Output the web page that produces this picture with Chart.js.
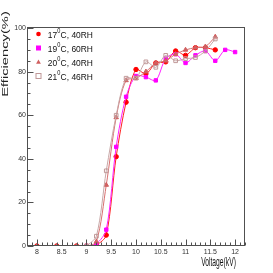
<!DOCTYPE html>
<html><head><meta charset="utf-8">
<script src="https://cdn.jsdelivr.net/npm/chart.js@4.4.0/dist/chart.umd.min.js"></script>
<style>html,body{margin:0;padding:0;background:#fff;overflow:hidden;}</style>
</head><body>
<canvas id="c" width="273" height="273"></canvas>
<script>
// ---- data ----
const voltages = [8.0, 8.4, 8.8, 9.0, 9.2, 9.4, 9.6, 9.8, 10.0, 10.2, 10.4, 10.6, 10.8, 11.0, 11.2, 11.4, 11.6, 11.8, 12.0];
const eff17C40RH = [0, 0, 0, 0, 0.5, 5, 41, 66, 81, 79, 84, 84.5, 89.5, 87.5, 91, 91, 90, null, null];
const eff19C60RH = [null, null, null, 0, 1, 7.5, 45.5, 68.5, 78, 77.5, 76, 86, 88, 84, 87.5, 89.5, 85, 90, 89];
const eff20C40RH = [0, 0, 0, 0, 2, 28, 59, 76, 77, 80, 84, 85, 88, 90, 91, 91.5, 96, null, null];
const eff21C46RH = [null, null, null, 0, 4.5, 34.5, 60, 77, 77, 84.5, 82, 87.5, 85, 86, 86.5, 89.5, 95, null, null];
const seriesNames = [["17", "0", "C, 40RH"], ["19", "0", "C, 60RH"], ["20", "0", "C, 40RH"], ["21", "0", "C, 46RH"]];
const xTicks = [8, 8.5, 9, 9.5, 10, 10.5, 11, 11.5, 12];
const yTicks = [0, 20, 40, 60, 80, 100];
const xTitle = "Voltage(kV)";
const yTitle = "Efficiency(%)";

const toPts = arr => voltages.map((v, i) => ({x: v, y: arr[i]})).filter(p => p.y !== null);

const styles = [
  {color: '#ff0000', line: '#ff2020', pointStyle: 'circle', r: 2.2, open: false},
  {color: '#ff00ff', line: '#ff20ff', pointStyle: 'rect', r: 2.4, open: false},
  {color: '#d06060', line: '#d87070', pointStyle: 'triangle', r: 2.6, open: false},
  {color: '#c09898', line: '#c8a8a8', pointStyle: 'rect', r: 2.6, open: true}
];
const allSeries = [eff17C40RH, eff19C60RH, eff20C40RH, eff21C46RH];

const datasets = allSeries.map((arr, i) => ({
  label: seriesNames[i].join(''),
  data: toPts(arr),
  borderColor: styles[i].line,
  borderWidth: 1,
  backgroundColor: styles[i].color,
  pointBackgroundColor: styles[i].open ? 'rgba(255,255,255,0)' : styles[i].color,
  pointBorderColor: styles[i].color,
  pointBorderWidth: 1,
  pointStyle: styles[i].pointStyle,
  pointRadius: styles[i].r,
  tension: 0.3,
  fill: false
})).reverse();

const decor = {
  id: 'decor',
  afterDraw(chart) {
    const {ctx, chartArea: a, scales: {x, y}} = chart;
    ctx.save();
    ctx.strokeStyle = '#505050';
    ctx.lineWidth = 1;
    const L = Math.round(a.left) + 0.5, R = Math.round(a.right) - 0.5;
    const T = Math.round(a.top) + 0.5, B = Math.round(a.bottom) - 0.5;
    ctx.strokeRect(L, T, R - L, B - T);
    ctx.beginPath();
    for (let i = 78; i <= 122; i++) {
      const px = Math.round(x.getPixelForValue(i / 10)) + 0.5;
      const len = (i % 5 === 0) ? 6 : 3;
      ctx.moveTo(px, B); ctx.lineTo(px, B - len);
    }
    for (let i = 0; i <= 20; i++) {
      const py = Math.round(y.getPixelForValue(i * 5)) + 0.5;
      const len = (i % 4 === 0) ? 6 : 3;
      ctx.moveTo(L, py); ctx.lineTo(L + len, py);
    }
    ctx.stroke();

    // legend
    const rows = [34, 48, 62, 76];
    const fam = '"Liberation Sans", Arial, sans-serif';
    for (let i = 0; i < 4; i++) {
      const s = styles[i];
      const cy = rows[i], cx = 38.5;
      ctx.save();
      ctx.fillStyle = s.color; ctx.strokeStyle = s.color; ctx.lineWidth = 1;
      if (s.pointStyle === 'circle') { ctx.beginPath(); ctx.arc(cx, cy, 2.3, 0, Math.PI * 2); ctx.fill(); }
      else if (s.pointStyle === 'triangle') { ctx.beginPath(); ctx.moveTo(cx, cy - 2.6); ctx.lineTo(cx + 2.4, cy + 1.8); ctx.lineTo(cx - 2.4, cy + 1.8); ctx.closePath(); ctx.fill(); }
      else if (s.open) { ctx.strokeRect(cx - 2.5, cy - 2.5, 5, 5); }
      else { ctx.fillRect(cx - 2.5, cy - 2.5, 5, 5); }
      ctx.restore();
      const [a1, sup, rest] = seriesNames[i];
      ctx.save();
      ctx.translate(47.7, cy + 3.5);
      ctx.scale(0.86, 1);
      ctx.fillStyle = '#111';
      ctx.textBaseline = 'alphabetic';
      ctx.font = '9.8px ' + fam;
      ctx.fillText(a1, 0, 0);
      let w = ctx.measureText(a1).width;
      ctx.font = '6.5px ' + fam;
      ctx.fillText(sup, w + 0.3, -4.2);
      w += ctx.measureText(sup).width + 0.5;
      ctx.font = '9.8px ' + fam;
      ctx.fillText(rest, w, 0);
      ctx.restore();
    }

    // axis titles
    ctx.save();
    ctx.fillStyle = '#111';
    ctx.font = '12px ' + fam;
    ctx.textAlign = 'center';
    ctx.textBaseline = 'alphabetic';
    ctx.translate(218.5, 266);
    ctx.scale(0.56, 1);
    ctx.fillText(xTitle, 0, 0);
    ctx.restore();

    ctx.save();
    ctx.fillStyle = '#222';
    ctx.font = '8.2px ' + fam;
    ctx.textAlign = 'center';
    ctx.textBaseline = 'alphabetic';
    ctx.translate(7.6, 54);
    ctx.rotate(-Math.PI / 2);
    ctx.scale(1.8, 1);
    ctx.fillText(yTitle, 0, 0);
    ctx.restore();
    ctx.restore();
  }
};

new Chart(document.getElementById('c'), {
  type: 'line',
  data: {datasets},
  options: {
    responsive: false,
    animation: false,
    devicePixelRatio: 1,
    layout: {padding: {top: 27, right: 28, left: 0, bottom: 0}},
    plugins: {legend: {display: false}, tooltip: {enabled: false}},
    scales: {
      x: {
        type: 'linear', min: 7.8, max: 12.2,
        afterBuildTicks: s => { s.ticks = xTicks.map(v => ({value: v})); },
        afterFit: s => { s.height = 27; },
        grid: {display: false, drawTicks: false},
        border: {display: false},
        ticks: {padding: 2, color: '#333', font: {family: '"Liberation Sans Narrow", "Liberation Sans", Arial', size: 7}, maxRotation: 0, autoSkip: false, callback: v => String(v)}
      },
      y: {
        type: 'linear', min: 0, max: 100.5,
        afterBuildTicks: s => { s.ticks = yTicks.map(v => ({value: v})); },
        afterFit: s => { s.width = 27; },
        grid: {display: false, drawTicks: false},
        border: {display: false},
        ticks: {padding: 1, color: '#333', font: {family: '"Liberation Sans Narrow", "Liberation Sans", Arial', size: 7}, autoSkip: false, callback: v => String(v)}
      }
    }
  },
  plugins: [decor]
});
</script>
</body></html>
